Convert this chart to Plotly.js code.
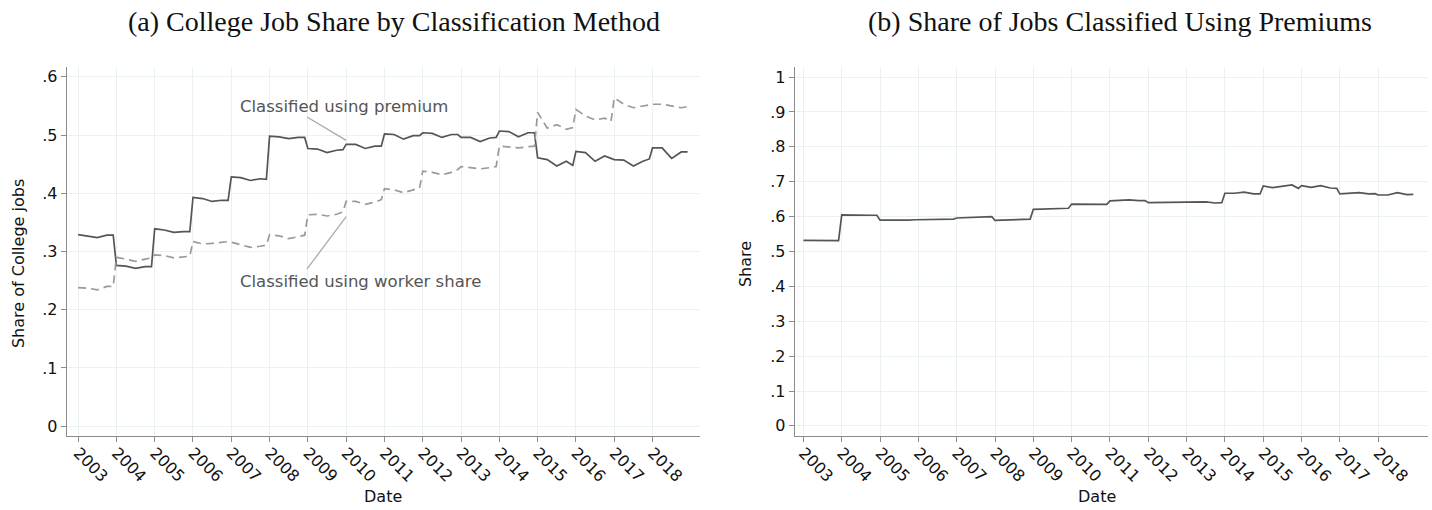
<!DOCTYPE html>
<html>
<head>
<meta charset="utf-8">
<script src="https://cdn.plot.ly/plotly-3.0.1.min.js"></script>
<style>
html,body{margin:0;padding:0;background:#fff;}
#chart{width:1432px;height:510px;}
</style>
</head>
<body>
<div id="chart"></div>
<script>
// ---- data (readings at Jan, Apr, Jul, Oct, Dec of each year) ----
const years = [2003,2004,2005,2006,2007,2008,2009,2010,2011,2012,2013,2014,2015,2016,2017,2018];
const monthsSampled = [1,4,7,10,12];

const premiumShare = [
  .329,.327,.324,.328,.328,
  .276,.275,.271,.274,.274,
  .339,.337,.333,.334,.334,
  .393,.391,.386,.388,.388,
  .428,.427,.422,.425,.424,
  .498,.497,.494,.496,.496,
  .477,.476,.470,.474,.475,
  .484,.484,.477,.481,.481,
  .502,.501,.493,.499,.499,
  .504,.503,.496,.501,.501,
  .496,.496,.489,.495,.496,
  .507,.506,.497,.504,.504,
  .461,.458,.447,.455,.448,
  .472,.470,.455,.464,.460,
  .458,.457,.447,.455,.459,
  .478,.478,.460,.471,.471
];

const workerShare = [
  .238,.237,.234,.240,.240,
  .290,.287,.283,.287,.289,
  .294,.293,.289,.291,.292,
  .317,.313,.314,.316,.317,
  .316,.312,.307,.309,.311,
  .329,.327,.322,.326,.328,
  .363,.364,.361,.364,.368,
  .386,.386,.381,.385,.389,
  .408,.406,.401,.406,.409,
  .438,.436,.432,.436,.441,
  .446,.444,.442,.444,.446,
  .481,.480,.478,.480,.481,
  .539,.512,.518,.510,.513,
  .544,.533,.526,.529,.524,
  .564,.553,.547,.550,.553,
  .553,.553,.550,.547,.549
];

const shareUsingPremium = [
  .532,.532,.531,.531,.531,
  .605,.604,.603,.604,.604,
  .590,.590,.589,.590,.591,
  .591,.592,.593,.593,.593,
  .596,.597,.597,.598,.600,
  .589,.590,.590,.591,.593,
  .621,.622,.623,.624,.624,
  .636,.636,.636,.635,.635,
  .645,.646,.648,.646,.646,
  .640,.640,.642,.640,.641,
  .640,.640,.642,.639,.640,
  .667,.667,.670,.665,.665,
  .688,.683,.686,.691,.681,
  .689,.684,.689,.682,.681,
  .665,.666,.669,.665,.666,
  .662,.662,.669,.663,.664
];

const leftTickVals = [0,.1,.2,.3,.4,.5,.6];
const leftTickText = ['0','.1','.2','.3','.4','.5','.6'];
const rightTickVals = [0,.1,.2,.3,.4,.5,.6,.7,.8,.9,1];
const rightTickText = ['0','.1','.2','.3','.4','.5','.6','.7','.8','.9','1'];

// date positions (decimal years)
const dates = [];
years.forEach(y => monthsSampled.forEach(m => dates.push(y + (m - 1) / 12)));

// ---- chart ----
const font = 'DejaVu Sans, sans-serif';
const gridC = '#eaf1f1';
const lineC = '#8c8c8c';

const xBase = {
  tickmode: 'array', tickvals: years, ticktext: years.map(String),
  tickangle: 45, ticks: 'outside', ticklen: 5, tickcolor: lineC,
  ticklabelstandoff: -5,
  showline: true, linecolor: lineC, linewidth: 1.3,
  showgrid: true, gridcolor: gridC, zeroline: false,
  tickfont: {family: font, size: 16, color: '#111'}
};
const yBase = {
  tickmode: 'array', ticks: 'outside', ticklen: 5, tickcolor: lineC,
  showline: true, linecolor: lineC, linewidth: 1.3,
  showgrid: true, gridcolor: gridC, zeroline: false,
  tickfont: {family: font, size: 16, color: '#111'}
};

const traces = [
  {x: dates, y: premiumShare, xaxis: 'x', yaxis: 'y', mode: 'lines',
   line: {color: '#555555', width: 1.7}, hoverinfo: 'skip'},
  {x: dates, y: workerShare, xaxis: 'x', yaxis: 'y', mode: 'lines',
   line: {color: '#9a9a9a', width: 1.7, dash: '8px,5px'}, hoverinfo: 'skip'},
  {x: dates, y: shareUsingPremium, xaxis: 'x2', yaxis: 'y2', mode: 'lines',
   line: {color: '#555555', width: 1.7}, hoverinfo: 'skip'}
];

const layout = {
  width: 1432, height: 510,
  margin: {l: 67, r: 4, t: 67, b: 74},
  paper_bgcolor: '#fff', plot_bgcolor: '#fff',
  showlegend: false,
  xaxis: Object.assign({}, xBase, {domain: [0, 0.4651], range: [2002.71, 2019.24]}),
  yaxis: Object.assign({}, yBase, {range: [-0.017, 0.617], tickvals: leftTickVals, ticktext: leftTickText}),
  xaxis2: Object.assign({}, xBase, {domain: [0.5349, 1], range: [2002.78, 2019.3], anchor: 'y2'}),
  yaxis2: Object.assign({}, yBase, {range: [-0.029, 1.029], tickvals: rightTickVals, ticktext: rightTickText, anchor: 'x2'}),
  shapes: [
    {type: 'line', xref: 'x', yref: 'y', x0: 2008.98, y0: 0.531, x1: 2010.0, y1: 0.491,
     line: {color: '#aaaaaa', width: 1.3}},
    {type: 'line', xref: 'x', yref: 'y', x0: 2008.98, y0: 0.270, x1: 2010.0, y1: 0.360,
     line: {color: '#aaaaaa', width: 1.3}}
  ],
  annotations: [
    {text: '(a) College Job Share by Classification Method', xref: 'paper', yref: 'paper',
     x: 0.2403, y: 1.122, xanchor: 'center', yanchor: 'middle', showarrow: false,
     font: {family: 'Liberation Serif, serif', size: 28, color: '#111'}},
    {text: '(b) Share of Jobs Classified Using Premiums', xref: 'paper', yref: 'paper',
     x: 0.7737, y: 1.122, xanchor: 'center', yanchor: 'middle', showarrow: false,
     font: {family: 'Liberation Serif, serif', size: 28, color: '#111'}},
    {text: 'Classified using premium', xref: 'x', yref: 'y', x: 2007.18, y: 0.549,
     xanchor: 'left', yanchor: 'middle', showarrow: false,
     font: {family: font, size: 16.5, color: '#555'}},
    {text: 'Classified using worker share', xref: 'x', yref: 'y', x: 2007.18, y: 0.249,
     xanchor: 'left', yanchor: 'middle', showarrow: false,
     font: {family: font, size: 16.5, color: '#555'}},
    {text: 'Share of College jobs', xref: 'paper', yref: 'paper', x: -0.036, y: 0.466,
     textangle: -90, xanchor: 'center', yanchor: 'middle', showarrow: false,
     font: {family: font, size: 16, color: '#111'}},
    {text: 'Share', xref: 'paper', yref: 'paper', x: 0.4982, y: 0.466,
     textangle: -90, xanchor: 'center', yanchor: 'middle', showarrow: false,
     font: {family: font, size: 16, color: '#111'}},
    {text: 'Date', xref: 'paper', yref: 'paper', x: 0.2322, y: -0.1653,
     xanchor: 'center', yanchor: 'middle', showarrow: false,
     font: {family: font, size: 16, color: '#111'}},
    {text: 'Date', xref: 'paper', yref: 'paper', x: 0.7568, y: -0.1653,
     xanchor: 'center', yanchor: 'middle', showarrow: false,
     font: {family: font, size: 16, color: '#111'}}
  ]
};

Plotly.newPlot('chart', traces, layout, {staticPlot: true, displayModeBar: false});
</script>
</body>
</html>
